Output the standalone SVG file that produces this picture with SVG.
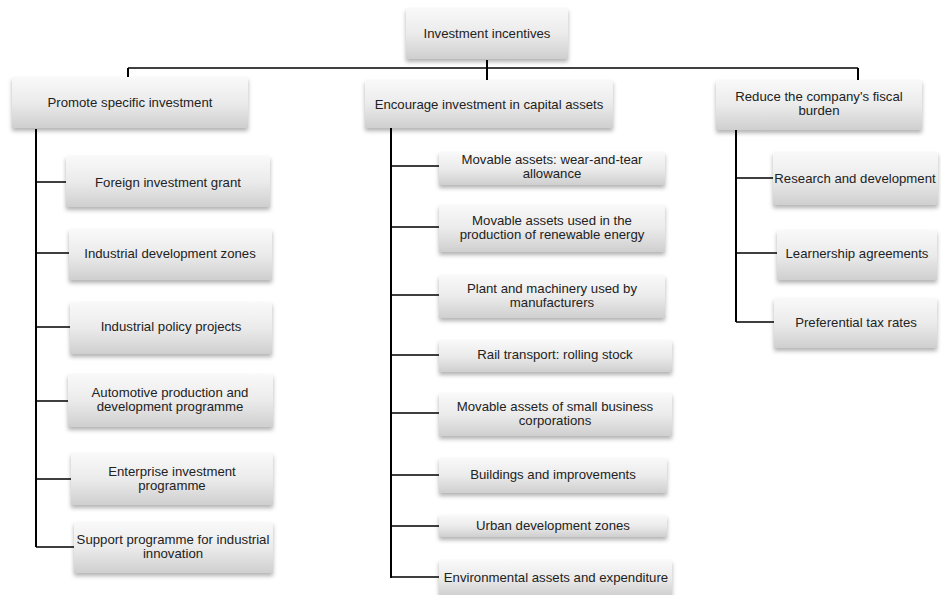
<svg xmlns="http://www.w3.org/2000/svg" width="941" height="595" viewBox="0 0 941 595">
<defs>
<linearGradient id="g" x1="0" y1="0" x2="0" y2="1">
<stop offset="0" stop-color="#f9f9f9"/>
<stop offset="0.5" stop-color="#ebebeb"/>
<stop offset="1" stop-color="#cfcfcf"/>
</linearGradient>
<filter id="sh" x="-10%" y="-20%" width="120%" height="150%">
<feDropShadow dx="0" dy="3" stdDeviation="2" flood-color="#000" flood-opacity="0.3"/>
</filter>
</defs>
<style>
.box{fill:url(#g);filter:url(#sh);}
text{font-family:"Liberation Sans",Arial,sans-serif;font-size:13.2px;fill:#222;text-anchor:middle;}
.c{stroke:#000;fill:none;}
.t{stroke-width:2;}
.h{stroke-width:1.6;}
</style>
<rect width="941" height="595" fill="#fff"/>
<g id="connectors">
<path class="c h" d="M128 68 H858"/>
<path class="c t" d="M487 60 V80 M128 68 V77 M858 68 V80"/>
<path class="c t" d="M36 129 V547"/>
<path class="c h" d="M36 182 H66 M36 253 H69 M36 327 H70 M36 401 H68 M36 479 H71 M36 547 H74"/>
<path class="c t" d="M391 128 V578"/>
<path class="c h" d="M391 166 H439 M391 227 H439 M391 295 H439 M391 355 H439 M391 413 H439 M391 475 H439 M391 526 H439 M391 577 H439"/>
<path class="c t" d="M736 130 V322"/>
<path class="c h" d="M736 178 H773 M736 253 H777 M736 322 H774"/>
</g>
<g id="root"><rect class="box" x="406" y="8" width="162" height="51"/><text x="487" y="38">Investment incentives</text></g>
<g id="promote"><rect class="box" x="12" y="77" width="236" height="51"/><text x="130" y="107">Promote specific investment</text></g>
<g id="encourage"><rect class="box" x="365" y="80" width="248" height="48"/><text x="489" y="109">Encourage investment in capital assets</text></g>
<g id="reduce"><rect class="box" x="716" y="80" width="206" height="50"/><text x="819" y="101">Reduce the company's fiscal</text><text x="819" y="115">burden</text></g>

<g id="foreign"><rect class="box" x="66" y="156" width="204" height="51"/><text x="168" y="187">Foreign investment grant</text></g>
<g id="idz"><rect class="box" x="69" y="229" width="203" height="51"/><text x="170" y="258">Industrial development zones</text></g>
<g id="ipp"><rect class="box" x="70" y="302" width="202" height="52"/><text x="171" y="331">Industrial policy projects</text></g>
<g id="auto"><rect class="box" x="68" y="374" width="205" height="53"/><text x="170" y="397">Automotive production and</text><text x="170" y="411">development programme</text></g>
<g id="enterprise"><rect class="box" x="71" y="453" width="202" height="52"/><text x="172" y="476">Enterprise investment</text><text x="172" y="490">programme</text></g>
<g id="support"><rect class="box" x="74" y="522" width="199" height="51"/><text x="173" y="544">Support programme for industrial</text><text x="173" y="558">innovation</text></g>

<g id="m1"><rect class="box" x="439" y="152" width="226" height="33"/><text x="552" y="164">Movable assets: wear-and-tear</text><text x="552" y="178">allowance</text></g>
<g id="m2"><rect class="box" x="439" y="205" width="226" height="47"/><text x="552" y="225">Movable assets used in the</text><text x="552" y="239">production of renewable energy</text></g>
<g id="m3"><rect class="box" x="439" y="275" width="226" height="43"/><text x="552" y="293">Plant and machinery used by</text><text x="552" y="307">manufacturers</text></g>
<g id="m4"><rect class="box" x="439" y="340" width="233" height="32"/><text x="555" y="359">Rail transport: rolling stock</text></g>
<g id="m5"><rect class="box" x="439" y="393" width="233" height="43"/><text x="555" y="411">Movable assets of small business</text><text x="555" y="425">corporations</text></g>
<g id="m6"><rect class="box" x="439" y="458" width="228" height="35"/><text x="553" y="479">Buildings and improvements</text></g>
<g id="m7"><rect class="box" x="439" y="515" width="228" height="22"/><text x="553" y="530">Urban development zones</text></g>
<g id="m8"><rect class="box" x="439" y="560" width="233" height="36"/><text x="556" y="582">Environmental assets and expenditure</text></g>

<g id="r1"><rect class="box" x="773" y="152" width="165" height="53"/><text x="855" y="183">Research and development</text></g>
<g id="r2"><rect class="box" x="777" y="230" width="160" height="50"/><text x="857" y="258">Learnership agreements</text></g>
<g id="r3"><rect class="box" x="774" y="298" width="163" height="50"/><text x="856" y="327">Preferential tax rates</text></g>
</svg>
